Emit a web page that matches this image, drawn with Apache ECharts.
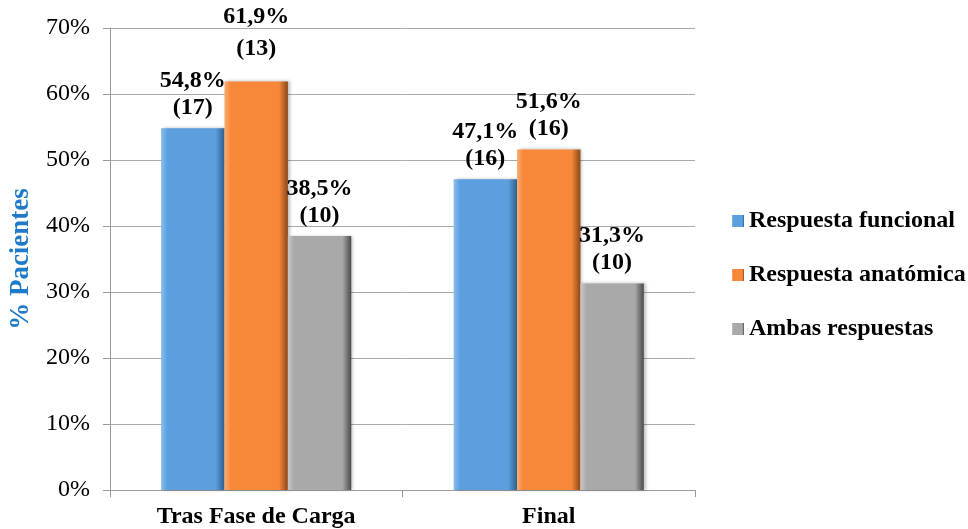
<!DOCTYPE html>
<html>
<head>
<meta charset="utf-8">
<script src="https://cdn.jsdelivr.net/npm/echarts@6/dist/echarts.min.js"></script>
<style>
	html, body { margin: 0; padding: 0; background: #fff; }
	#chart { width: 968px; height: 529px; }
</style>
</head>
<body>
<div id="chart"></div>
<script>
let categories = ['Tras Fase de Carga', 'Final'];
let seriesNames = ['Respuesta funcional', 'Respuesta anatómica', 'Ambas respuestas'];
let funcional = [54.8, 47.1];
let anatomica = [61.9, 51.6];
let ambas = [38.5, 31.3];
let funcionalN = [17, 16];
let anatomicaN = [13, 16];
let ambasN = [10, 10];

let font = '"Liberation Serif", "Times New Roman", serif';

function bevel(light, base, dark) {
	return new echarts.graphic.LinearGradient(0, 0, 1, 0, [
		{ offset: 0, color: light },
		{ offset: 0.1, color: base },
		{ offset: 0.86, color: base },
		{ offset: 1, color: dark }
	]);
}

function makeSeries(name, values, counts, light, base, dark) {
	return {
		name: name,
		type: 'bar',
		barGap: '0%',
		barCategoryGap: '35%',
		// the tallest label sits a bit higher in the original, with wider line spacing
		data: values.map(v => v > 60 ? { value: v, label: { lineHeight: 32, distance: 17 } } : v),
		itemStyle: {
			color: bevel(light, base, dark),
			shadowColor: 'rgba(0,0,0,0.25)',
			shadowBlur: 3,
			shadowOffsetX: 2
		},
		label: {
			show: true,
			position: 'top',
			distance: 7,
			fontFamily: font,
			fontWeight: 'bold',
			fontSize: 24,
			lineHeight: 27,
			color: '#000',
			formatter: p => p.value.toFixed(1).replace('.', ',') + '%\n(' + counts[p.dataIndex] + ')'
		}
	};
}

let chart = echarts.init(document.getElementById('chart'));
chart.setOption({
	animation: false,
	grid: { left: 106, right: 273, top: 28, bottom: 39 },
	legend: {
		orient: 'vertical',
		left: 732,
		top: 209,
		padding: 0,
		itemWidth: 12,
		itemHeight: 12,
		itemGap: 30,
		icon: 'rect',
		textStyle: { fontFamily: font, fontWeight: 'bold', fontSize: 24, color: '#000' },
		data: seriesNames
	},
	xAxis: {
		type: 'category',
		data: categories,
		axisLine: { lineStyle: { color: '#999' } },
		axisTick: { show: true, length: 7, lineStyle: { color: '#999' } },
		axisLabel: { fontFamily: font, fontWeight: 'bold', fontSize: 24, color: '#000', margin: 15 }
	},
	yAxis: {
		type: 'value',
		min: 0,
		max: 70,
		interval: 10,
		name: '% Pacientes',
		nameLocation: 'middle',
		nameGap: 73,
		nameRotate: 90,
		nameTextStyle: { fontFamily: font, fontWeight: 'bold', fontSize: 27, color: '#1F7BC8' },
		axisLine: { show: true, lineStyle: { color: '#999' } },
		axisTick: { show: true, length: 7, lineStyle: { color: '#999' } },
		axisLabel: { fontFamily: font, fontSize: 24, color: '#000', margin: 20, formatter: '{value}%' },
		splitLine: { lineStyle: { color: '#aaa' } }
	},
	series: [
		makeSeries(seriesNames[0], funcional, funcionalN, '#8cbdee', '#5b9fdf', '#2f5f8c'),
		makeSeries(seriesNames[1], anatomica, anatomicaN, '#fbac72', '#f7883a', '#8a4716'),
		makeSeries(seriesNames[2], ambas, ambasN, '#c8c8c8', '#a9a9a9', '#4a4a4a')
	]
});
</script>
</body>
</html>
